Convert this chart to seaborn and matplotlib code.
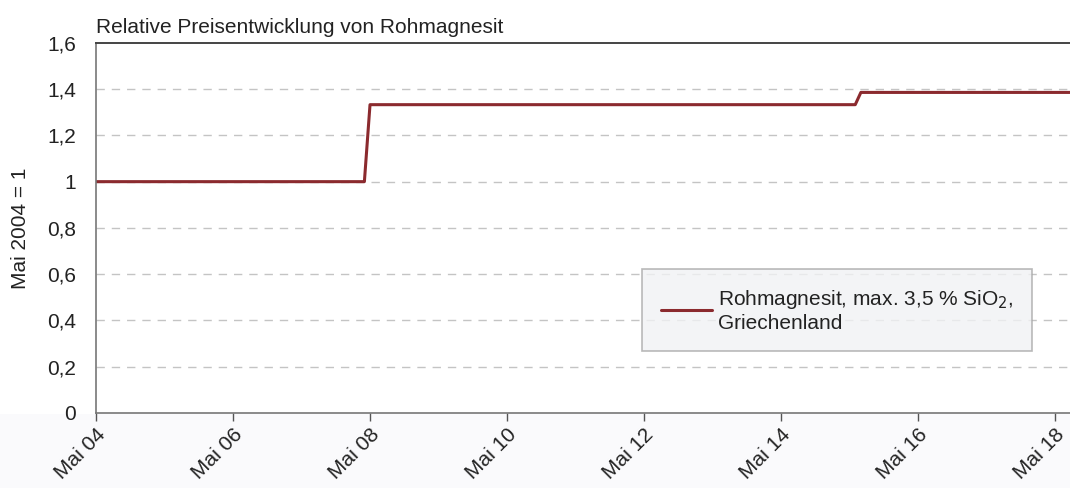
import pandas as pd
import seaborn as sns
import matplotlib
import matplotlib.pyplot as plt
from matplotlib.patches import Rectangle

matplotlib.use("Agg")

# step points of the price index (monthly values, Mai 2004 = 1)
dates = ["2004-05-01", "2008-04-01", "2008-05-01", "2015-06-01", "2015-07-01", "2018-08-01"]
values = [1.0, 1.0, 1.333, 1.333, 1.386, 1.386]
series_name = "Rohmagnesit, max. 3,5 % SiO$_2$,\nGriechenland"

tick_years = [2004, 2006, 2008, 2010, 2012, 2014, 2016, 2018]
y_ticks = [0, 0.2, 0.4, 0.6, 0.8, 1.0, 1.2, 1.4, 1.6]
y_labels = ["0", "0,2", "0,4", "0,6", "0,8", "1", "1,2", "1,4", "1,6"]

df = pd.DataFrame({"date": pd.to_datetime(dates), "value": values})

sns.set_style("white")
plt.rcParams["font.family"] = ["Liberation Sans", "DejaVu Sans"]
FS = 15
TXT = "#222222"

fig = plt.figure(figsize=(10.70, 4.88), dpi=100, facecolor="white")
# faint tint under the plot area
fig.patches.append(Rectangle((0, 0), 1, 0.152, transform=fig.transFigure,
                             facecolor="#fafafc", edgecolor="none", zorder=-1))
ax = fig.add_axes([0.0897, 0.154, 0.9103, 0.758])
ax.set_facecolor("white")

sns.lineplot(data=df, x="date", y="value", color="#8b2a2e", linewidth=2.2,
             label=series_name, ax=ax)

ax.set_ylim(0, 1.6)
ax.set_yticks(y_ticks)
ax.set_yticklabels(y_labels, fontsize=FS, color=TXT)
ax.set_xlim(pd.Timestamp("2004-05-01"), pd.Timestamp("2018-07-20"))
tick_dates = [pd.Timestamp(f"{y}-05-01") for y in tick_years]
ax.set_xticks(tick_dates)
ax.set_xticklabels([f"Mai {str(y)[2:]}" for y in tick_years], rotation=45,
                   ha="right", rotation_mode="anchor", fontsize=FS, color=TXT)

for yv in y_ticks[1:-1]:
    ax.axhline(yv, color="#c4c4c4", lw=1, ls=(0, (6, 5)), zorder=0)

for side in ["left", "bottom"]:
    ax.spines[side].set_color("#777777")
    ax.spines[side].set_linewidth(1.2)
ax.spines["top"].set_color("#444444")
ax.spines["top"].set_linewidth(1.4)
ax.spines["right"].set_visible(False)
ax.tick_params(axis="x", bottom=True, direction="out", length=6, width=1,
               color="#555555", pad=3)
ax.tick_params(axis="y", left=False, pad=11)

ax.set_xlabel("")
ax.set_ylabel("Mai 2004 = 1", fontsize=FS, color=TXT, labelpad=12)
ax.set_title("Relative Preisentwicklung von Rohmagnesit", loc="left",
             fontsize=FS, color=TXT, pad=7)

leg = ax.legend(loc="upper left", bbox_to_anchor=(0.5606, 0.389), frameon=True,
                fontsize=FS, handlelength=2.45, handletextpad=0.3,
                borderpad=0.9, borderaxespad=0, fancybox=False)
leg.get_frame().set_facecolor("#f1f2f4")
leg.get_frame().set_edgecolor("#a8a8a8")
leg.get_frame().set_linewidth(1.2)
for t in leg.get_texts():
    t.set_color(TXT)

plt.savefig("out.png", dpi=100, facecolor=fig.get_facecolor())
